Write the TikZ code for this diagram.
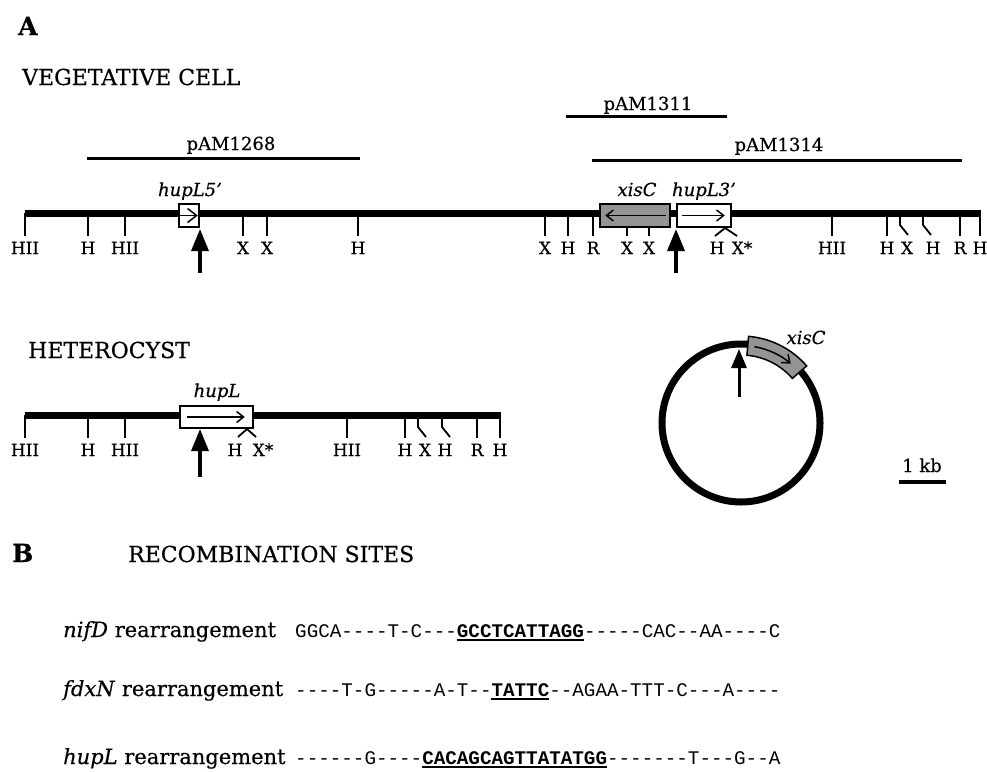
\documentclass[tikz,border=0pt]{standalone}
\usepackage{fontspec}
\setmainfont{DejaVu Serif}[FakeBold=0.4]
\setmonofont{Liberation Mono}
\usetikzlibrary{arrows.meta}
\definecolor{genegray}{gray}{0.58}
\newcommand{\fsz}[1]{\fontsize{#1}{#1}\selectfont}
\begin{document}
\begin{tikzpicture}[x=1pt,y=-1pt,
  dna/.style={line width=7pt},
  cut/.style={line width=1.8pt},
  site/.style={font=\fsz{17}, inner sep=0pt, anchor=base},
  gname/.style={font=\fsz{18}\itshape, inner sep=0pt, anchor=base},
  head/.style={font=\fsz{22}, inner sep=0pt, anchor=base west},
  panel/.style={font=\fsz{25}\bfseries, inner sep=0pt, anchor=base west},
  plasmid/.style={font=\fsz{18}, inner sep=0pt, anchor=base},
  clone/.style={line width=3pt},
  genebox/.style={draw, line width=1.6pt, inner sep=0pt},
  inarrow/.style={line width=1.5pt, -{Straight Barb[length=7pt,width=11pt]}},
  bigarrow/.style={line width=3.5pt, -{Triangle[length=22pt,width=17pt]}},
  seq/.style={font=\fontsize{19.25}{20}\selectfont\ttfamily, inner sep=0pt, anchor=base west},
  seqlab/.style={font=\fsz{21}, inner sep=0pt, anchor=base west},
  uline/.style={line width=1.6pt}
]
\useasboundingbox (0,0) rectangle (987,771);
\fill[white] (0,0) rectangle (987,771);

% ---------- panel A headings
\node[panel] (pA) at (18,35) {A};
\node[head] (veg) at (22,85) {VEGETATIVE CELL};

% clones
\coordinate (c1a) at (87,158); \coordinate (c1b) at (360,158);
\draw[clone] (c1a) -- (c1b);
\node[plasmid] (p1268) at (231,150) {pAM1268};
\coordinate (c2a) at (566,116); \coordinate (c2b) at (727,116);
\draw[clone] (c2a) -- (c2b);
\node[plasmid] (p1311) at (648,110) {pAM1311};
\coordinate (c3a) at (592,160); \coordinate (c3b) at (962,160);
\draw[clone] (c3a) -- (c3b);
\node[plasmid] (p1314) at (779,151) {pAM1314};

% vegetative chromosome
\coordinate (vL) at (25,213); \coordinate (vR) at (981,213);
\draw[dna] (vL) -- (vR);
\foreach \x in {25,88,125,243,267,358,545,568,593,832,887,960,980}
  \draw[cut] (\x,213) -- (\x,236);
\foreach \x in {627,649}
  \draw[cut] (\x,226) -- (\x,236);
\draw[cut] (900,216) -- (900,225) -- (908,235);
\draw[cut] (923,216) -- (923,225) -- (931,235);
\draw[cut] (715,236) -- (725,228) -- (737,236);
\foreach \x/\t in {25/HII,88/H,125/HII,243/X,267/X,358/H,545/X,568/H,593/R,627/X,649/X,717/H,742/X*,832/HII,887/H,907/X,933/H,960/R,980/H}
  \node[site] at (\x,254) {\t};

% genes on vegetative map
\node[genebox, fill=white, minimum width=20pt, minimum height=23pt] (h5) at (189,215.5) {};
\draw[line width=1.5pt, -{Straight Barb[length=9pt,width=14pt]}] ([xshift=2pt]h5.west) -- ([xshift=-2pt]h5.east);
\node[gname] (h5lab) at (190,196) {hupL5'};

\node[genebox, fill=genegray, minimum width=70pt, minimum height=23pt] (xis) at (635,215.5) {};
\draw[inarrow] ([xshift=-5pt]xis.east) -- ([xshift=6pt]xis.west);
\node[gname] (xislab) at (637,196) {xisC};

\node[genebox, fill=white, minimum width=54pt, minimum height=23pt] (h3) at (704,215.5) {};
\draw[inarrow] ([xshift=6pt]h3.west) -- ([xshift=-7pt]h3.east);
\node[gname] (h3lab) at (704,196) {hupL3'};

\coordinate (a1s) at (200,273); \coordinate (a1t) at (200,229);
\draw[bigarrow] (a1s) -- (a1t);
\coordinate (a2s) at (676,273); \coordinate (a2t) at (676,229);
\draw[bigarrow] (a2s) -- (a2t);

% ---------- heterocyst
\node[head] (het) at (28,358) {HETEROCYST};
\coordinate (hL) at (25,415); \coordinate (hR) at (501,415);
\draw[dna] (hL) -- (hR);
\foreach \x in {25,88,125,347,405,477,500}
  \draw[cut] (\x,415) -- (\x,438);
\draw[cut] (418,418) -- (418,427) -- (426,437);
\draw[cut] (442,418) -- (442,427) -- (450,437);
\draw[cut] (238,437) -- (247,429) -- (256,437);
\foreach \x/\t in {25/HII,88/H,125/HII,235/H,263/X*,347/HII,405/H,425/X,445/H,477/R,500/H}
  \node[site] at (\x,456) {\t};
\node[genebox, fill=white, minimum width=73pt, minimum height=22pt] (hl) at (216.5,417) {};
\draw[inarrow] ([xshift=8pt]hl.west) -- ([xshift=-9pt]hl.east);
\node[gname] (hllab) at (217,397) {hupL};
\coordinate (a3s) at (200,477); \coordinate (a3t) at (200,429);
\draw[bigarrow] (a3s) -- (a3t);

% ---------- excised circle
\node[draw, circle, line width=7pt, minimum size=158pt, inner sep=0pt] (ring) at (741,423) {};
\begin{scope}[shift={(ring.center)}]
  \filldraw[fill=genegray, draw=black, line width=1.5pt]
    (-85:87) arc[start angle=-85, end angle=-41, radius=87]
    -- (-41:68) arc[start angle=-41, end angle=-85, radius=68] -- cycle;
  \draw[line width=1.5pt, -{Straight Barb[length=7pt,width=11pt]}]
    (-80:77.5) arc[start angle=-80, end angle=-50, radius=77.5];
\end{scope}
\node[gname] (cxislab) at (806,344) {xisC};
\coordinate (a4s) at (739,397); \coordinate (a4t) at (739,349);
\draw[line width=3pt, -{Triangle[length=19pt,width=15pt]}] (a4s) -- (a4t);

% scale bar
\coordinate (sbL) at (899,482); \coordinate (sbR) at (946,482);
\draw[line width=4pt] (sbL) -- (sbR);
\node[plasmid] (sblab) at (922,472) {1 kb};

% ---------- panel B
\node[panel] (pB) at (12,562) {B};
\node[head] (rec) at (128,562) {RECOMBINATION SITES};

\node[seqlab] (l1) at (63,637) {\textit{nifD} rearrangement};
\node[seqlab] (l2) at (63,696) {\textit{fdxN} rearrangement};
\node[seqlab] (l3) at (63,764) {\textit{hupL} rearrangement};

\node[seq] (s1) at (295,637) {GGCA----T-C---\textbf{GCCTCATTAGG}-----CAC--AA----C};
\node[seq] (s2) at (295,696) {----T-G-----A-T--\textbf{TATTC}--AGAA-TTT-C---A----};
\node[seq] (s3) at (295,764) {------G----\textbf{CACAGCAGTTATATGG}-------T---G--A};

\draw[uline] ([xshift=161.7pt,yshift=-3pt]s1.base west) -- ([xshift=288.75pt,yshift=-3pt]s1.base west);
\draw[uline] ([xshift=196.35pt,yshift=-3pt]s2.base west) -- ([xshift=254.1pt,yshift=-3pt]s2.base west);
\draw[uline] ([xshift=127.05pt,yshift=-3pt]s3.base west) -- ([xshift=311.85pt,yshift=-3pt]s3.base west);
\end{tikzpicture}
\end{document}
